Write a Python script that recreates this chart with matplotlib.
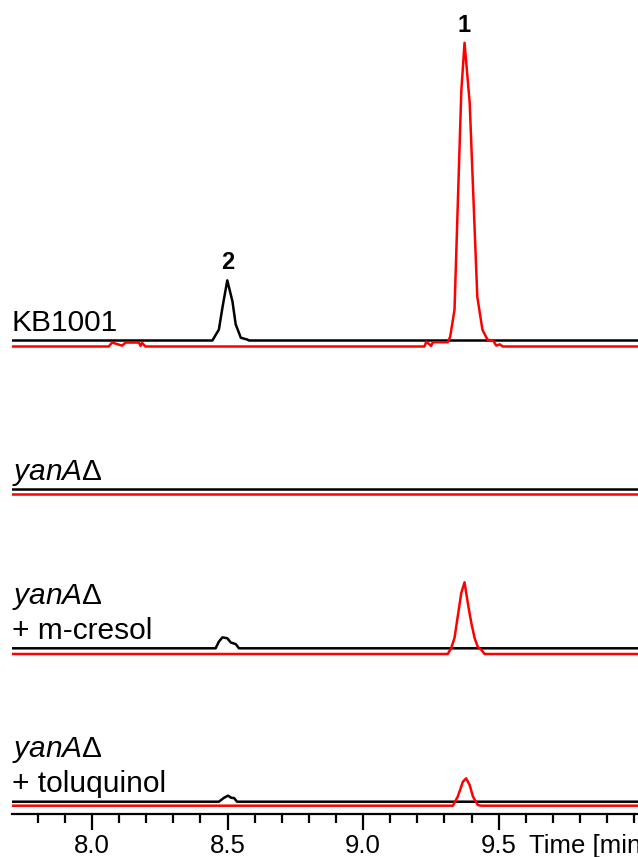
import matplotlib.pyplot as plt
from matplotlib.ticker import MultipleLocator

plt.rcParams['font.family'] = ['Liberation Sans', 'DejaVu Sans']
plt.rcParams['mathtext.fontset'] = 'custom'
plt.rcParams['mathtext.it'] = 'Liberation Sans:italic'
plt.rcParams['mathtext.rm'] = 'Liberation Sans'

# retention time [min] and intensity [% of peak 1], black and red channel per sample
kb_black_t = [7.70, 8.444, 8.468, 8.481, 8.499, 8.518, 8.530, 8.549, 8.573, 8.579, 10.02]
kb_black_i = [0, 0, 3.6, 10.8, 19.8, 12.9, 5.3, 0.9, 0.3, 0, 0]
kb_red_t = [7.70, 8.062, 8.074, 8.111, 8.124, 8.173, 8.179, 8.185, 8.197,
            9.226, 9.233, 9.251, 9.257, 9.312, 9.321, 9.337, 9.362, 9.374,
            9.393, 9.421, 9.440, 9.459, 9.479, 9.491, 9.504, 9.515, 10.02]
kb_red_i = [0, 0, 1.3, 0.3, 1.3, 1.3, 0.2, 1.2, 0,
            0, 1.6, 0.2, 1.4, 1.4, 3.2, 12.1, 84.0, 100,
            80.2, 16.4, 5.5, 2.2, 2.0, 0.3, 0.7, 0, 0]

yana_black_t = [7.70, 10.02]
yana_black_i = [0, 0]
yana_red_t = [7.70, 10.02]
yana_red_i = [0, 0]

cresol_black_t = [7.70, 8.456, 8.468, 8.481, 8.499, 8.512, 8.530, 8.542, 10.02]
cresol_black_i = [0, 0, 2.2, 3.6, 3.3, 1.9, 1.4, 0, 0]
cresol_red_t = [7.70, 9.312, 9.325, 9.337, 9.362, 9.374, 9.386, 9.399, 9.411, 9.423, 9.436, 9.448, 10.02]
cresol_red_i = [0, 0, 2.0, 5.3, 20.1, 23.6, 16.8, 10.2, 5.3, 2.3, 1.4, 0, 0]

toluq_black_t = [7.70, 8.468, 8.487, 8.502, 8.513, 8.524, 8.535, 10.02]
toluq_black_i = [0, 0, 1.3, 2.0, 1.3, 1.2, 0, 0]
toluq_red_t = [7.70, 9.331, 9.349, 9.368, 9.380, 9.393, 9.405, 9.423, 9.436, 10.02]
toluq_red_i = [0, 0, 3.0, 7.9, 9.0, 6.8, 3.0, 0.2, 0, 0]

yana = r'$\mathit{yanA}$Δ'
sample_labels = [['KB1001'], [yana], [yana, '+ m-cresol'], [yana, '+ toluquinol']]

# peak labels
peak_names = ['1', '2']
peak_times = [9.374, 8.499]

major_ticks = [8.0, 8.5, 9.0, 9.5]

# layout: vertical stacking of the traces (px above time axis)
SCALE = 3.037
black_offset = [473.5, 324.7, 165.7, 12.3]
red_offset = [467.5, 320.0, 160.0, 8.3]

traces = [
    (kb_black_t, kb_black_i, kb_red_t, kb_red_i),
    (yana_black_t, yana_black_i, yana_red_t, yana_red_i),
    (cresol_black_t, cresol_black_i, cresol_red_t, cresol_red_i),
    (toluq_black_t, toluq_black_i, toluq_red_t, toluq_red_i),
]

fig = plt.figure(figsize=(6.38, 8.57), dpi=100)
ax = fig.add_axes([12 / 638, 43 / 857, 626 / 638, 814 / 857])
ax.set_xlim(7.705, 10.0137)
ax.set_ylim(0, 814)

for k, (bt, bi, rt, ri) in enumerate(traces):
    ax.plot(bt, [black_offset[k] + v * SCALE for v in bi], color='black', lw=1.8, zorder=2)
    ax.plot(rt, [red_offset[k] + v * SCALE for v in ri], color='#ff0000', lw=1.8, zorder=3)
    for j, line in enumerate(reversed(sample_labels[k])):
        ax.annotate(line, (7.705, black_offset[k]), xytext=(0, 7 + j * 25),
                    textcoords='offset points', ha='left', va='baseline', fontsize=21.5)

# peak numbers above the apex
apex = {'1': red_offset[0] + max(kb_red_i) * SCALE,
        '2': black_offset[0] + max(kb_black_i) * SCALE}
for name, t in zip(peak_names, peak_times):
    ax.annotate(name, (t, apex[name]), xytext=(0, 8), textcoords='offset points',
                ha='center', va='baseline', fontsize=17, fontweight='bold')

for s in ['top', 'right', 'left']:
    ax.spines[s].set_visible(False)
ax.spines['bottom'].set_linewidth(1.6)
ax.set_yticks([])
ax.set_xticks(major_ticks)
ax.set_xticklabels([f'{v:.1f}' for v in major_ticks])
ax.xaxis.set_minor_locator(MultipleLocator(0.1))
ax.tick_params(axis='x', which='major', length=11.5, width=1.6, direction='out',
               labelsize=18.5, pad=3)
ax.tick_params(axis='x', which='minor', length=6.5, width=1.6, direction='out')

ax.annotate('Time [min]', (9.612, 0), xytext=(0, -14.5), textcoords='offset points',
            ha='left', va='top', fontsize=18.5, annotation_clip=False)

fig.savefig('out.png', dpi=100)
